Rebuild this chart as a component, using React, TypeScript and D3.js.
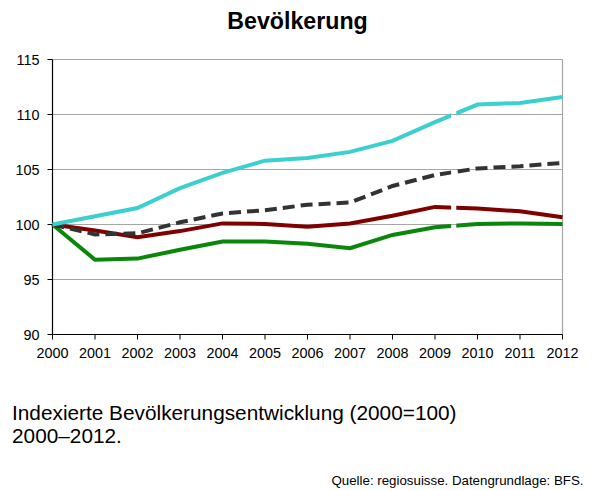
import React from "react";
import * as d3 from "d3";

const years = [2000, 2001, 2002, 2003, 2004, 2005, 2006, 2007, 2008, 2009, 2010, 2011, 2012];
const cyanSeries = [100, 100.75, 101.5, 103.3, 104.7, 105.8, 106.05, 106.6, 107.6, 109.3, 110.9, 111.05, 111.6];
const dashedSeries = [100, 99.1, 99.2, 100.2, 101.0, 101.3, 101.8, 102.0, 103.5, 104.5, 105.1, 105.3, 105.6];
const redSeries = [100, 99.45, 98.85, 99.4, 100.1, 100.05, 99.8, 100.1, 100.8, 101.6, 101.45, 101.2, 100.65];
const greenSeries = [100, 96.8, 96.9, 97.7, 98.45, 98.45, 98.25, 97.85, 99.05, 99.75, 100.05, 100.1, 100.05];
const yTicks = [90, 95, 100, 105, 110, 115];

const W = 596, H = 490;
const left = 52.5, right = 562.5, top = 59.5, bottom = 334.5;

export default function App() {
  const x = d3.scaleLinear().domain([2000, 2012]).range([left, right]);
  const y = d3.scaleLinear().domain([90, 115]).range([bottom, top]);
  const line = d3.line<number>().x((_, i) => x(years[i])).y((d) => y(d));
  const font = "'Liberation Sans', Arial, sans-serif";
  const series = [
    { v: greenSeries, color: "#0a870a", dash: undefined },
    { v: redSeries, color: "#800000", dash: undefined },
    { v: dashedSeries, color: "#333333", dash: "12 6" },
    { v: cyanSeries, color: "#3ccfcf", dash: undefined },
  ];
  const gapA = x(2009.38), gapB = x(2009.5);
  return (
    <svg width={W} height={H} style={{ position: "absolute", left: 0, top: 0, background: "#fff" }}>
      <defs>
        <clipPath id="gapclip">
          <rect x={0} y={0} width={gapA} height={H} />
          <rect x={gapB} y={0} width={W - gapB} height={H} />
        </clipPath>
      </defs>
      <text x={297.5} y={28.5} textAnchor="middle" fontFamily={font} fontWeight="bold" fontSize={23.2} fill="#000">Bevölkerung</text>
      {yTicks.map((t) => (
        <g key={t}>
          {t > 90 && <line x1={left} x2={right} y1={y(t)} y2={y(t)} stroke="#a6a6a6" strokeWidth={1.2} />}
          <line x1={left - 5} x2={left} y1={y(t)} y2={y(t)} stroke="#000" strokeWidth={1} />
          <text x={39.5} y={y(t) + 5} textAnchor="end" fontFamily={font} fontSize={14.4} fill="#000">{t}</text>
        </g>
      ))}
      <line x1={right} x2={right} y1={top} y2={bottom} stroke="#a6a6a6" strokeWidth={1.2} />
      {years.map((yr) => (
        <g key={yr}>
          <line x1={x(yr)} x2={x(yr)} y1={bottom} y2={bottom + 5} stroke="#000" strokeWidth={1} />
          <text x={x(yr)} y={357.5} textAnchor="middle" fontFamily={font} fontSize={14.4} fill="#000">{yr}</text>
        </g>
      ))}
      <line x1={left} x2={left} y1={top} y2={bottom} stroke="#000" strokeWidth={1.2} />
      <line x1={left} x2={right} y1={bottom} y2={bottom} stroke="#000" strokeWidth={1.2} />
      <g clipPath="url(#gapclip)">
        {series.map((s, i) => (
          <path key={i} d={line(s.v) || ""} fill="none" stroke={s.color} strokeWidth={4} strokeDasharray={s.dash} />
        ))}
      </g>
      <text x={12} y={419.5} fontFamily={font} fontSize={20.8} fill="#000">Indexierte Bevölkerungsentwicklung (2000=100)</text>
      <text x={12} y={443} fontFamily={font} fontSize={20.8} fill="#000">2000–2012.</text>
      <text x={583.5} y={485} textAnchor="end" fontFamily={font} fontSize={13.3} fill="#000">Quelle: regiosuisse. Datengrundlage: BFS.</text>
    </svg>
  );
}
